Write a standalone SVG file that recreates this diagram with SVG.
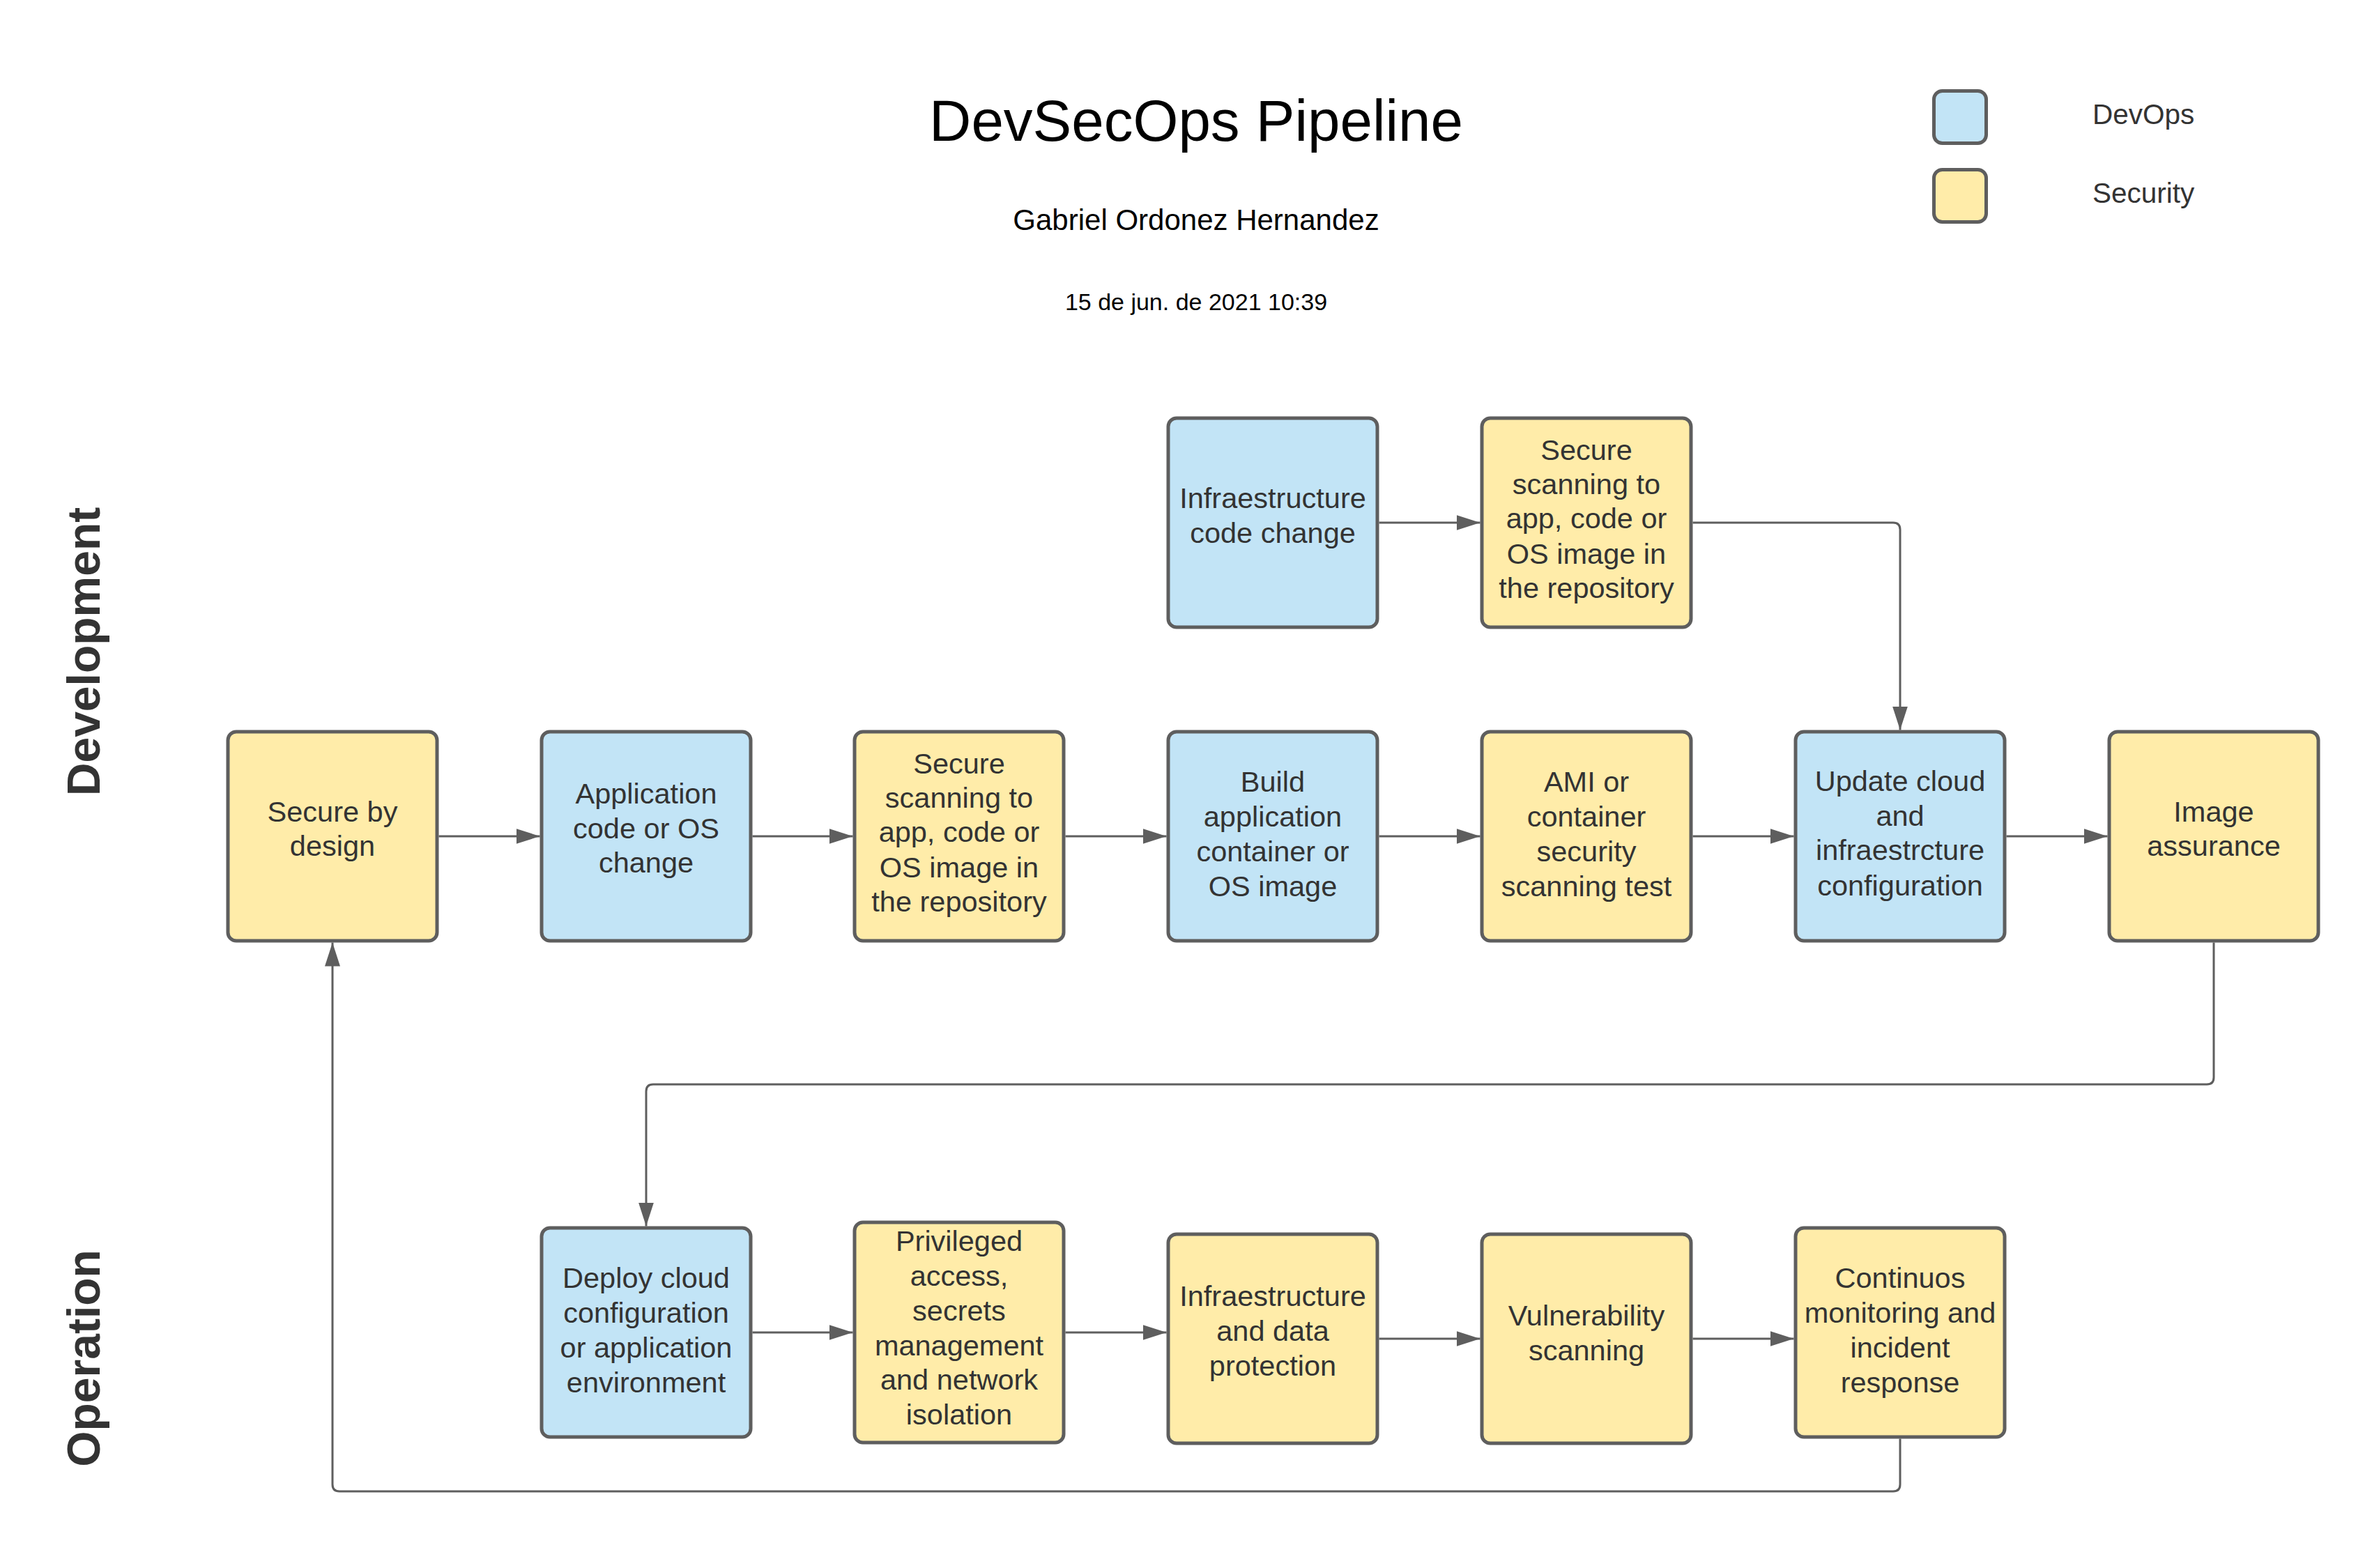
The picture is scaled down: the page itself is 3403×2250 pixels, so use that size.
<svg xmlns="http://www.w3.org/2000/svg" width="3403" height="2250" viewBox="0 0 3403 2250">
<style>
.box{stroke:#5e5e5e;stroke-width:5}
.dev{fill:#c2e4f6}
.sec{fill:#ffeca9}
.t{font-family:"Liberation Sans",Arial,sans-serif;font-size:41.5px;fill:#333333;text-anchor:middle}
.lane{font-family:"Liberation Sans",Arial,sans-serif;font-size:66px;font-weight:bold;fill:#333333;text-anchor:middle}
.hdr{font-family:"Liberation Sans",Arial,sans-serif;fill:#000000;text-anchor:middle}
.leg{font-family:"Liberation Sans",Arial,sans-serif;font-size:40.5px;fill:#333333}
.c{fill:none;stroke:#5e5e5e;stroke-width:3}
</style>
<defs>
<marker id="ah" markerUnits="userSpaceOnUse" markerWidth="34" markerHeight="22" refX="34" refY="11" orient="auto">
<path d="M0,0 L34,11 L0,22 z" fill="#5e5e5e"/>
</marker>
</defs>
<rect width="3403" height="2250" fill="#ffffff"/>

<g id="header">
<text class="hdr" x="1716" y="202" font-size="83.5">DevSecOps Pipeline</text>
<text class="hdr" x="1716" y="330" font-size="42">Gabriel Ordonez Hernandez</text>
<text class="hdr" x="1716" y="445" font-size="34">15 de jun. de 2021 10:39</text>
</g>

<g id="legend">
<rect class="box dev" x="2774.5" y="130.5" width="75" height="75" rx="12"/>
<text class="leg" x="3002" y="178">DevOps</text>
<rect class="box sec" x="2774.5" y="243.5" width="75" height="75" rx="12"/>
<text class="leg" x="3002" y="291">Security</text>
</g>

<g id="lanes">
<text class="lane" transform="translate(143,935) rotate(-90)">Development</text>
<text class="lane" transform="translate(143,1949) rotate(-90)">Operation</text>
</g>

<g id="connectors">
<line class="c" x1="629.5" y1="1200" x2="774.5" y2="1200" marker-end="url(#ah)"/>
<line class="c" x1="1079.5" y1="1200" x2="1223.5" y2="1200" marker-end="url(#ah)"/>
<line class="c" x1="1528.5" y1="1200" x2="1673.5" y2="1200" marker-end="url(#ah)"/>
<line class="c" x1="1978.5" y1="1200" x2="2123.5" y2="1200" marker-end="url(#ah)"/>
<line class="c" x1="2428.5" y1="1200" x2="2573.5" y2="1200" marker-end="url(#ah)"/>
<line class="c" x1="2878.5" y1="1200" x2="3023.5" y2="1200" marker-end="url(#ah)"/>
<line class="c" x1="1978.5" y1="750" x2="2123.5" y2="750" marker-end="url(#ah)"/>
<path class="c" d="M2428.5,750 H2716 Q2726,750 2726,760 V1047.5" marker-end="url(#ah)"/>
<path class="c" d="M3176,1352.5 V1546 Q3176,1556 3166,1556 H937 Q927,1556 927,1566 V1759.5" marker-end="url(#ah)"/>
<line class="c" x1="1079.5" y1="1912" x2="1223.5" y2="1912" marker-end="url(#ah)"/>
<line class="c" x1="1528.5" y1="1912" x2="1673.5" y2="1912" marker-end="url(#ah)"/>
<line class="c" x1="1978.5" y1="1921" x2="2123.5" y2="1921" marker-end="url(#ah)"/>
<line class="c" x1="2428.5" y1="1921" x2="2573.5" y2="1921" marker-end="url(#ah)"/>
<path class="c" d="M2726,2064.5 V2130 Q2726,2140 2716,2140 H487 Q477,2140 477,2130 V1352.5" marker-end="url(#ah)"/>
</g>

<g id="n-infra-code">
<rect class="box dev" x="1676" y="600" width="300" height="300" rx="12"/>
<text class="t" x="1826" y="729">Infraestructure</text>
<text class="t" x="1826" y="779">code change</text>
</g>
<g id="n-scan-top">
<rect class="box sec" x="2126" y="600" width="300" height="300" rx="12"/>
<text class="t" x="2276" y="660">Secure</text>
<text class="t" x="2276" y="709">scanning to</text>
<text class="t" x="2276" y="758">app, code or</text>
<text class="t" x="2276" y="809">OS image in</text>
<text class="t" x="2276" y="858">the repository</text>
</g>

<g id="n-secure-design">
<rect class="box sec" x="327" y="1050" width="300" height="300" rx="12"/>
<text class="t" x="477" y="1179">Secure by</text>
<text class="t" x="477" y="1228">design</text>
</g>
<g id="n-app-change">
<rect class="box dev" x="777" y="1050" width="300" height="300" rx="12"/>
<text class="t" x="927" y="1153">Application</text>
<text class="t" x="927" y="1203">code or OS</text>
<text class="t" x="927" y="1252">change</text>
</g>
<g id="n-scan-repo">
<rect class="box sec" x="1226" y="1050" width="300" height="300" rx="12"/>
<text class="t" x="1376" y="1110">Secure</text>
<text class="t" x="1376" y="1159">scanning to</text>
<text class="t" x="1376" y="1208">app, code or</text>
<text class="t" x="1376" y="1259">OS image in</text>
<text class="t" x="1376" y="1308">the repository</text>
</g>
<g id="n-build">
<rect class="box dev" x="1676" y="1050" width="300" height="300" rx="12"/>
<text class="t" x="1826" y="1136">Build</text>
<text class="t" x="1826" y="1186">application</text>
<text class="t" x="1826" y="1236">container or</text>
<text class="t" x="1826" y="1286">OS image</text>
</g>
<g id="n-ami">
<rect class="box sec" x="2126" y="1050" width="300" height="300" rx="12"/>
<text class="t" x="2276" y="1136">AMI or</text>
<text class="t" x="2276" y="1186">container</text>
<text class="t" x="2276" y="1236">security</text>
<text class="t" x="2276" y="1286">scanning test</text>
</g>
<g id="n-update-cloud">
<rect class="box dev" x="2576" y="1050" width="300" height="300" rx="12"/>
<text class="t" x="2726" y="1135">Update cloud</text>
<text class="t" x="2726" y="1185">and</text>
<text class="t" x="2726" y="1234">infraestrcture</text>
<text class="t" x="2726" y="1285">configuration</text>
</g>
<g id="n-image-assurance">
<rect class="box sec" x="3026" y="1050" width="300" height="300" rx="12"/>
<text class="t" x="3176" y="1179">Image</text>
<text class="t" x="3176" y="1228">assurance</text>
</g>

<g id="n-deploy">
<rect class="box dev" x="777" y="1762" width="300" height="300" rx="12"/>
<text class="t" x="927" y="1848">Deploy cloud</text>
<text class="t" x="927" y="1898">configuration</text>
<text class="t" x="927" y="1948">or application</text>
<text class="t" x="927" y="1998">environment</text>
</g>
<g id="n-privileged">
<rect class="box sec" x="1226" y="1754" width="300" height="316" rx="12"/>
<text class="t" x="1376" y="1795">Privileged</text>
<text class="t" x="1376" y="1845">access,</text>
<text class="t" x="1376" y="1895">secrets</text>
<text class="t" x="1376" y="1945">management</text>
<text class="t" x="1376" y="1994">and network</text>
<text class="t" x="1376" y="2044">isolation</text>
</g>
<g id="n-infra-data">
<rect class="box sec" x="1676" y="1771" width="300" height="300" rx="12"/>
<text class="t" x="1826" y="1874">Infraestructure</text>
<text class="t" x="1826" y="1924">and data</text>
<text class="t" x="1826" y="1974">protection</text>
</g>
<g id="n-vuln">
<rect class="box sec" x="2126" y="1771" width="300" height="300" rx="12"/>
<text class="t" x="2276" y="1902">Vulnerability</text>
<text class="t" x="2276" y="1952">scanning</text>
</g>
<g id="n-monitoring">
<rect class="box sec" x="2576" y="1762" width="300" height="300" rx="12"/>
<text class="t" x="2726" y="1848">Continuos</text>
<text class="t" x="2726" y="1898">monitoring and</text>
<text class="t" x="2726" y="1948">incident</text>
<text class="t" x="2726" y="1998">response</text>
</g>
</svg>
